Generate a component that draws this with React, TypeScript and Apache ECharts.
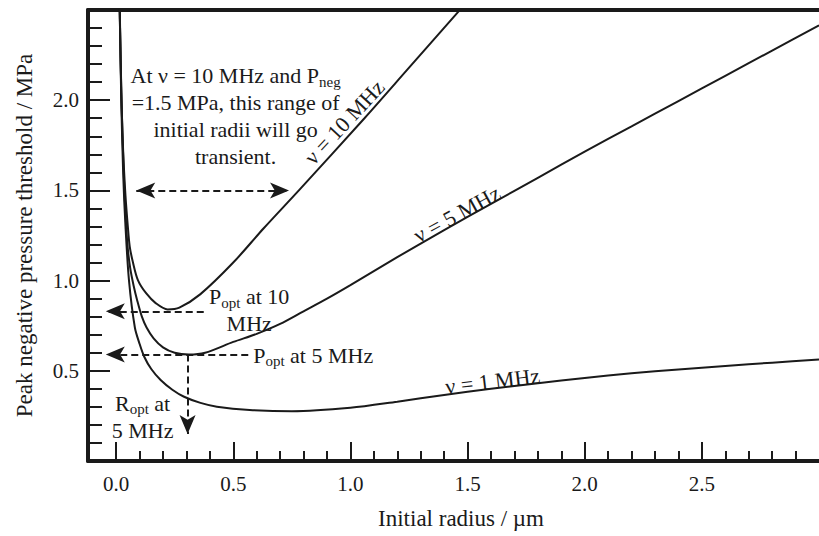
import React, { useEffect, useRef } from "react";
import * as echarts from "echarts";

// Initial radius (µm) and peak negative pressure threshold (MPa)
const R_10 = [0.012, 0.016, 0.022, 0.03, 0.04, 0.05, 0.058, 0.072, 0.093, 0.128, 0.17, 0.22, 0.27, 0.36, 0.5, 0.63, 0.78, 1.06, 1.24, 1.46, 1.52];
const P_10 = [2.8, 2.45, 2.05, 1.72, 1.47, 1.3, 1.19, 1.1, 1.003, 0.93, 0.874, 0.84, 0.85, 0.925, 1.1, 1.29, 1.5, 1.9, 2.165, 2.49, 2.58];

const R_5 = [0.012, 0.017, 0.024, 0.034, 0.047, 0.06, 0.075, 0.09, 0.11, 0.13, 0.16, 0.2, 0.25, 0.31, 0.38, 0.5, 0.6, 0.7, 0.8, 0.9, 1.0, 1.2, 1.4, 1.6, 1.8, 2.0, 2.2, 2.4, 2.6, 2.8, 3.0];
const P_5 = [2.8, 2.4, 1.95, 1.55, 1.22, 1.07, 0.97, 0.89, 0.8, 0.74, 0.68, 0.63, 0.6, 0.59, 0.6, 0.66, 0.705, 0.76, 0.83, 0.9, 0.975, 1.13, 1.28, 1.425, 1.57, 1.715, 1.855, 1.995, 2.135, 2.275, 2.415];

const R_1 = [0.012, 0.016, 0.022, 0.03, 0.04, 0.055, 0.08, 0.1, 0.12, 0.15, 0.19, 0.24, 0.29, 0.36, 0.43, 0.57, 0.75, 1.0, 1.2, 1.4, 1.6, 1.8, 2.0, 2.2, 2.4, 2.6, 2.8, 3.0];
const P_1 = [2.8, 2.45, 2.0, 1.6, 1.3, 1.0, 0.74, 0.65, 0.578, 0.51, 0.449, 0.395, 0.356, 0.322, 0.301, 0.283, 0.276, 0.295, 0.329, 0.366, 0.4, 0.431, 0.46, 0.486, 0.507, 0.527, 0.545, 0.562];

// Axis ticks
const X_MAJOR = [0, 0.5, 1.0, 1.5, 2.0, 2.5];
const X_MINOR = [0.1, 0.2, 0.3, 0.4, 0.6, 0.7, 0.8, 0.9, 1.1, 1.2, 1.3, 1.4, 1.6, 1.7, 1.8, 1.9, 2.1, 2.2, 2.3, 2.4, 2.6, 2.7, 2.8, 2.9];
const Y_MAJOR = [0.5, 1.0, 1.5, 2.0];
const Y_MINOR = [0.1, 0.2, 0.3, 0.4, 0.6, 0.7, 0.8, 0.9, 1.1, 1.2, 1.3, 1.4, 1.6, 1.7, 1.8, 1.9, 2.1, 2.2, 2.3, 2.4];

// Annotation arrows (data coordinates)
const TRANSIENT_P = 1.5;
const TRANSIENT_R = [0.086, 0.738];
const P_OPT = [0.83, 0.59]; // 10 MHz, 5 MHz
const P_OPT_FROM_R = [0.374, 0.564];
const ARROW_TIP_R = -0.044;
const R_OPT_5 = 0.305;
const R_OPT_TIP_P = 0.15;

// Annotation texts and their anchors (data coordinates)
const NOTE_TEXT = [
  "{m|At ν = 10 MHz and P}{s|neg}\n{m|=1.5 MPa, this range of}\n{m|initial radii will go}\n{m|transient.}",
  "{m|P}{s|opt}{m| at 10}\n{m|MHz}",
  "{m|P}{s|opt}{m| at 5 MHz}",
  "{m|R}{s|opt}{m| at}\n{m|5 MHz}",
  "{m|ν = 10 MHz}",
  "{m|ν = 5 MHz}",
  "{m|ν = 1 MHz}",
];
const NOTE_R = [0.51, 0.568, 0.585, 0.113, 0.974, 1.455, 1.607];
const NOTE_P = [1.912, 0.837, 0.585, 0.244, 1.879, 1.369, 0.443];
const NOTE_ROTATE = [0, 0, 0, 0, 47, 28.5, 6.7];
const NOTE_LEFT = [false, false, true, false, false, false, false];

const FAMILY = "Liberation Serif, Times New Roman, serif";
const INK = "#1a1a1a";

const X_MIN = -0.12;
const X_MAX = 3.0;
const Y_MIN = 0;
const Y_MAX = 2.5;

function pairs(r: number[], p: number[]) {
  return r.map((v, i) => [v, p[i]]);
}

const rich = {
  m: { fontFamily: FAMILY, fontSize: 22, color: INK, lineHeight: 27, textBorderWidth: 0 },
  s: { fontFamily: FAMILY, fontSize: 15, color: INK, lineHeight: 13, verticalAlign: "bottom", textBorderWidth: 0 },
};

export default function App() {
  const ref = useRef<HTMLDivElement>(null);
  useEffect(() => {
    if (!ref.current) return;
    const chart = echarts.init(ref.current, undefined, { renderer: "svg" });
    const lineStyle = { color: INK, width: 2 };
    const axisBase = {
      type: "value" as const,
      min: X_MIN,
      max: X_MAX,
      splitLine: { show: false },
    };
    const dashed = { type: [7, 4], width: 2, color: INK };
    const AS = [12, 19];
    const notes = NOTE_TEXT.map((t, i) => ({
      value: [NOTE_R[i], NOTE_P[i]],
      label: {
        show: true,
        formatter: t,
        position: NOTE_LEFT[i] ? "right" : "inside",
        distance: 0,
        rotate: NOTE_ROTATE[i],
        align: NOTE_LEFT[i] ? "left" : "center",
        verticalAlign: "middle",
        fontFamily: FAMILY,
        fontSize: 22,
        color: INK,
        opacity: 1,
        textBorderWidth: 0,
        rich,
      },
    }));
    chart.setOption({
      animation: false,
      backgroundColor: "#ffffff",
      grid: { left: 88, top: 10, right: -8, bottom: 75, containLabel: false },
      xAxis: [
        {
          ...axisBase,
          position: "bottom",
          name: "Initial radius / µm",
          nameLocation: "middle",
          nameGap: 46,
          nameTextStyle: { fontFamily: FAMILY, fontSize: 23, color: INK, padding: [0, 0, 0, 15] },
          axisLine: { show: true, onZero: false, lineStyle: { color: INK, width: 4 } },
          axisTick: { show: true, inside: true, length: 19, customValues: X_MAJOR, lineStyle: { color: INK, width: 2 } },
          axisLabel: {
            show: true,
            customValues: X_MAJOR,
            margin: 12,
            fontFamily: FAMILY,
            fontSize: 21,
            color: INK,
            formatter: (v: number) => v.toFixed(1),
          },
        },
        {
          ...axisBase,
          position: "bottom",
          axisLine: { show: false, onZero: false },
          axisTick: { show: true, inside: true, length: 10, customValues: X_MINOR, lineStyle: { color: INK, width: 2 } },
          axisLabel: { show: false },
        },
        {
          ...axisBase,
          position: "top",
          axisLine: { show: true, onZero: false, lineStyle: { color: INK, width: 4 } },
          axisTick: { show: false },
          axisLabel: { show: false },
        },
      ],
      yAxis: [
        {
          type: "value",
          min: Y_MIN,
          max: Y_MAX,
          position: "left",
          splitLine: { show: false },
          name: "Peak negative pressure threshold / MPa",
          nameLocation: "middle",
          nameGap: 52,
          nameTextStyle: { fontFamily: FAMILY, fontSize: 23, color: INK },
          axisLine: { show: true, onZero: false, lineStyle: { color: INK, width: 4 } },
          axisTick: { show: true, inside: true, length: 22, customValues: Y_MAJOR, lineStyle: { color: INK, width: 2 } },
          axisLabel: {
            show: true,
            customValues: Y_MAJOR,
            margin: 9,
            fontFamily: FAMILY,
            fontSize: 21,
            color: INK,
            formatter: (v: number) => v.toFixed(1),
          },
        },
        {
          type: "value",
          min: Y_MIN,
          max: Y_MAX,
          position: "left",
          splitLine: { show: false },
          axisLine: { show: false, onZero: false },
          axisTick: { show: true, inside: true, length: 14, customValues: Y_MINOR, lineStyle: { color: INK, width: 2 } },
          axisLabel: { show: false },
        },
      ],
      series: [
        {
          name: "ν = 10 MHz",
          type: "line",
          data: pairs(R_10, P_10),
          smooth: 0.3,
          symbol: "none",
          clip: true,
          lineStyle,
          silent: true,
          markLine: {
            silent: true,
            symbolSize: AS,
            label: { show: false },
            lineStyle: dashed,
            emphasis: { disabled: true },
            data: [
              [
                { coord: [TRANSIENT_R[0], TRANSIENT_P], symbol: "arrow", symbolSize: AS },
                { coord: [TRANSIENT_R[1], TRANSIENT_P], symbol: "arrow", symbolSize: AS },
              ],
              [
                { coord: [P_OPT_FROM_R[0], P_OPT[0]], symbol: "none" },
                { coord: [ARROW_TIP_R, P_OPT[0]], symbol: "arrow", symbolSize: AS },
              ],
              [
                { coord: [P_OPT_FROM_R[1], P_OPT[1]], symbol: "none" },
                { coord: [ARROW_TIP_R, P_OPT[1]], symbol: "arrow", symbolSize: AS },
              ],
              [
                { coord: [R_OPT_5, P_OPT[1]], symbol: "none" },
                { coord: [R_OPT_5, R_OPT_TIP_P], symbol: "arrow", symbolSize: AS },
              ],
            ],
          },
        },
        {
          name: "ν = 5 MHz",
          type: "line",
          data: pairs(R_5, P_5),
          smooth: 0.3,
          symbol: "none",
          clip: true,
          lineStyle,
          silent: true,
        },
        {
          name: "ν = 1 MHz",
          type: "line",
          data: pairs(R_1, P_1),
          smooth: 0.3,
          symbol: "none",
          clip: true,
          lineStyle,
          silent: true,
        },
        {
          name: "notes",
          type: "scatter",
          data: notes,
          symbol: "circle",
          symbolSize: 0,
          silent: true,
          clip: false,
          z: 5,
          itemStyle: { color: INK, opacity: 1 },
          emphasis: { disabled: true },
          labelLayout: { hideOverlap: false },
        },
      ],
    });
    return () => chart.dispose();
  }, []);
  return (
    <div
      ref={ref}
      style={{ position: "fixed", left: 0, top: 0, width: 819, height: 536, background: "#ffffff" }}
    />
  );
}
